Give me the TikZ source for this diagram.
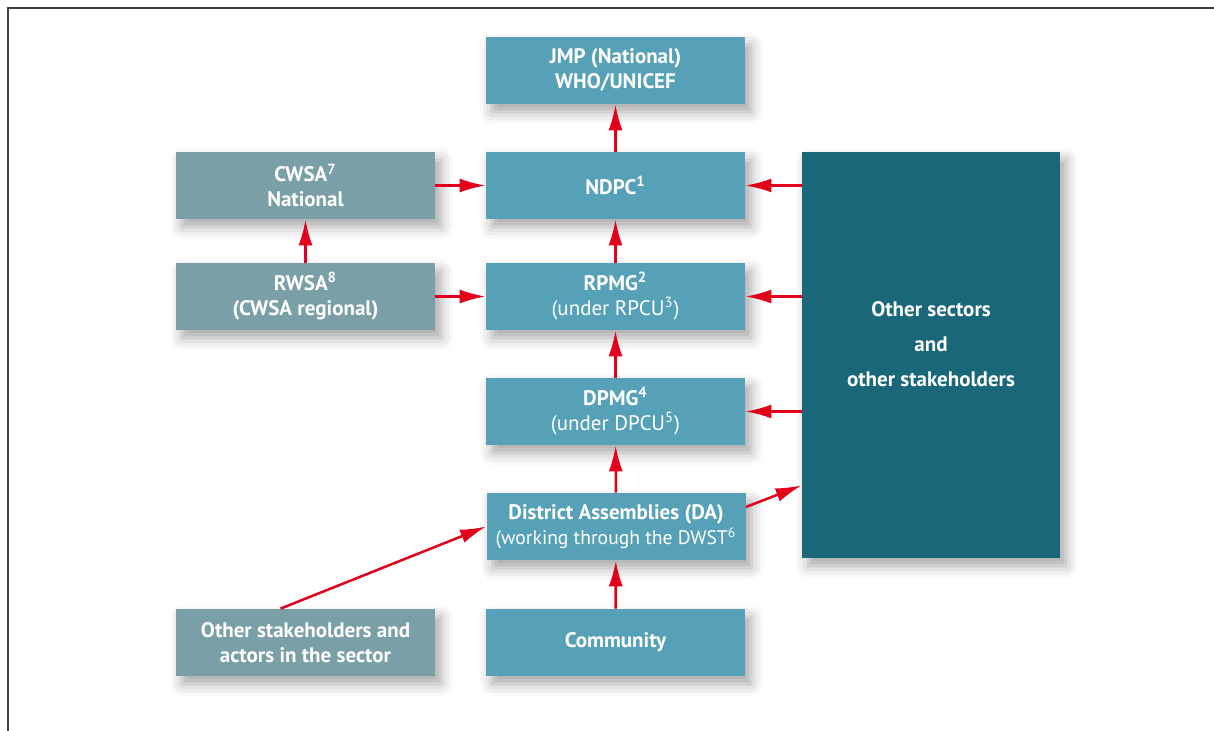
\documentclass[tikz,border=0pt]{standalone}
\usepackage{fontspec}
\setmainfont{PT Sans}
\usetikzlibrary{arrows.meta,shadows.blur}
\definecolor{boxblue}{HTML}{56A1B8}
\definecolor{boxgrey}{HTML}{7A9FA7}
\definecolor{boxdark}{HTML}{1B677A}
\definecolor{arrowred}{HTML}{E2001A}
\begin{document}
\begin{tikzpicture}[x=0.5pt,y=-0.5pt]
        \useasboundingbox (0,0) rectangle (1214,731);
        \draw[line width=1pt, black!75] (8,731) -- (8,8) -- (1214,8);
        \tikzstyle{every node}=[text=white, align=center, inner sep=0pt,
            font=\fontsize{10.5}{12.5}\selectfont\bfseries,
            minimum width=129.5pt, minimum height=33.5pt,
            blur shadow={shadow xshift=3pt, shadow yshift=-4pt, shadow blur radius=6pt, shadow opacity=35}]
        \node[fill=boxblue] (jmp)       at (615.5,  70.5) {JMP (National)\\WHO/UNICEF};
        \node[fill=boxblue] (ndpc)      at (615.5, 185.5) {NDPC\textsuperscript{1}};
        \node[fill=boxblue] (rpmg)      at (615.5, 296.5) {RPMG\textsuperscript{2}\\{\mdseries(under RPCU\textsuperscript{3})}};
        \node[fill=boxblue] (dpmg)      at (615.5, 411.5) {DPMG\textsuperscript{4}\\{\mdseries(under DPCU\textsuperscript{5})}};
        \node[fill=boxblue] (da)        at (616,   526.5) {District Assemblies (DA)\\{\mdseries\fontsize{9.8}{12.5}\selectfont(working through the DWST\textsuperscript{6}}};
        \node[fill=boxblue] (community) at (615.5, 642.5) {Community};
        \node[fill=boxgrey] (cwsa)      at (305.5, 185.5) {CWSA\textsuperscript{7}\\National};
        \node[fill=boxgrey] (rwsa)      at (305.5, 296.5) {RWSA\textsuperscript{8}\\(CWSA regional)};
        \node[fill=boxgrey] (others)    at (305.5, 642.5) {Other stakeholders and\\actors in the sector};
        \node[fill=boxdark, minimum width=129pt, minimum height=203pt,
              font=\fontsize{10.5}{17.5}\selectfont\bfseries] (sectors) at (931, 355)
              {\raisebox{5.5pt}[\height][\depth]{\parbox{120pt}{\centering Other sectors\\and\\other stakeholders}}};
        \tikzstyle{every node}=[]
        \tikzstyle{flow}=[-{Latex[length=13pt,width=7pt]}, line width=1.25pt, arrowred]
        \draw[flow] (ndpc) -- (jmp);
        \draw[flow] (rpmg) -- (ndpc);
        \draw[flow] (dpmg) -- (rpmg);
        \draw[flow] (da) -- (dpmg);
        \draw[flow] (community) -- (da);
        \draw[flow] (rwsa) -- (cwsa);
        \draw[flow] (cwsa) -- (ndpc);
        \draw[flow] (rwsa) -- (rpmg);
        \draw[flow] (sectors.west |- ndpc) -- (ndpc.east);
        \draw[flow] (sectors.west |- rpmg) -- (rpmg.east);
        \draw[flow] (sectors.west |- dpmg) -- (dpmg.east);
        \draw[flow] ([yshift=9.75pt]da.east) -- ([yshift=36.5pt]sectors.south west);
        \draw[flow] ([xshift=-12.5pt]others.north) -- (da.west);
    \end{tikzpicture}
\end{document}
